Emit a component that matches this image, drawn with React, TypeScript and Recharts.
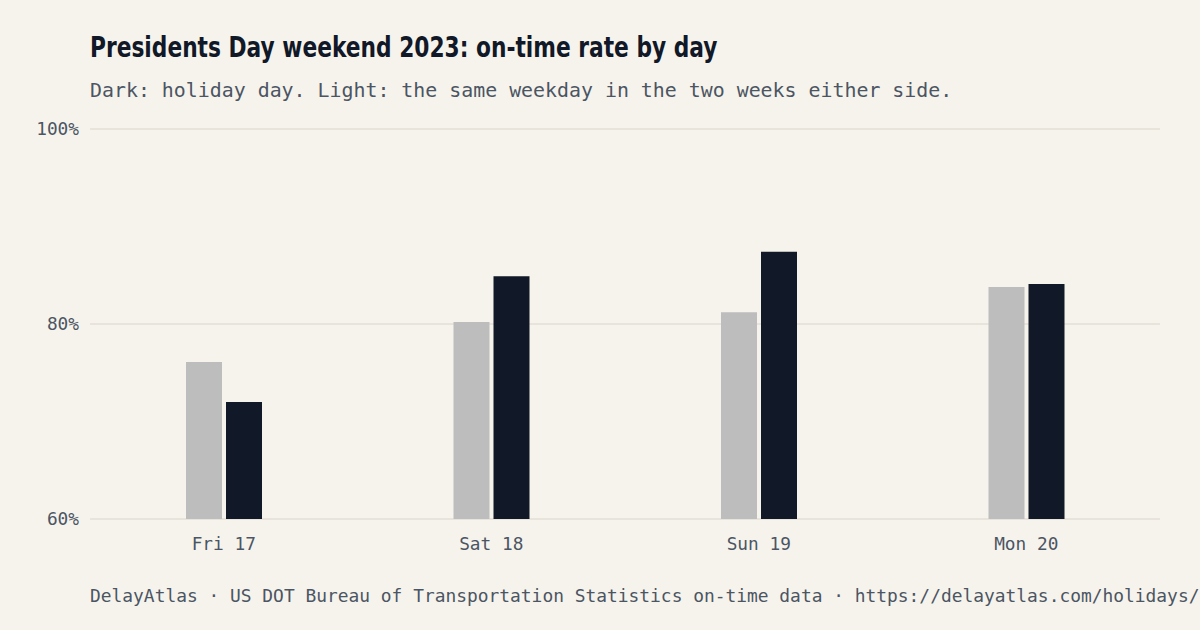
import { BarChart, Bar, XAxis, YAxis, CartesianGrid } from 'recharts';

// Presidents Day weekend 2023, on-time share (%) per day
const days = ['Fri 17', 'Sat 18', 'Sun 19', 'Mon 20'];
const baselineRate = [76.1, 80.2, 81.2, 83.8]; // same weekday, two weeks either side
const holidayRate = [72.0, 84.9, 87.4, 84.1];
const yTicks = [60, 80, 100];

const BG = '#f6f3ec';
const INK = '#111827';
const MUTED = '#4b5563';
const MONO = "'DejaVu Sans Mono', 'Liberation Mono', monospace";

const data = days.map((day, i) => ({
    day,
    baseline: baselineRate[i],
    holiday: holidayRate[i],
}));

const App = () => {
    return (
        <div
            style={{
                position: 'fixed',
                left: 0,
                top: 0,
                width: 1200,
                height: 630,
                background: BG,
                overflow: 'hidden',
            }}
        >
            <div
                style={{
                    position: 'absolute',
                    left: 90,
                    top: 30,
                    fontFamily: "'DejaVu Sans', sans-serif",
                    fontWeight: 700,
                    fontSize: 29,
                    color: INK,
                    whiteSpace: 'nowrap',
                    transform: 'scaleX(0.75)',
                    transformOrigin: 'left top',
                }}
            >
                Presidents Day weekend 2023: on-time rate by day
            </div>
            <div
                style={{
                    position: 'absolute',
                    left: 90,
                    top: 79,
                    fontFamily: MONO,
                    fontSize: 19.9,
                    color: MUTED,
                    whiteSpace: 'nowrap',
                }}
            >
                Dark: holiday day. Light: the same weekday in the two weeks either side.
            </div>

            <div style={{ position: 'absolute', left: 0, top: 0 }}>
                <BarChart
                    width={1200}
                    height={630}
                    data={data}
                    margin={{ top: 129, right: 40, bottom: 81, left: 0 }}
                    barSize={36}
                    barGap={4}
                >
                    <CartesianGrid vertical={false} stroke="#e8e4dc" strokeWidth={2} />
                    <XAxis
                        dataKey="day"
                        axisLine={false}
                        tickLine={false}
                        tickSize={0}
                        tickMargin={18}
                        height={30}
                        tick={{ fill: MUTED, fontFamily: MONO, fontSize: 17.8 }}
                    />
                    <YAxis
                        width={90}
                        domain={[60, 100]}
                        ticks={yTicks}
                        tickFormatter={(v) => `${v}%`}
                        axisLine={false}
                        tickLine={false}
                        tickSize={0}
                        tickMargin={11}
                        allowDataOverflow
                        tick={{ fill: MUTED, fontFamily: MONO, fontSize: 17.8 }}
                    />
                    <Bar dataKey="baseline" fill="#bdbdbd" isAnimationActive={false} />
                    <Bar dataKey="holiday" fill={INK} isAnimationActive={false} />
                </BarChart>
            </div>

            <div
                style={{
                    position: 'absolute',
                    left: 90,
                    top: 585,
                    fontFamily: MONO,
                    fontSize: 17.9,
                    color: MUTED,
                    whiteSpace: 'nowrap',
                }}
            >
                DelayAtlas · US DOT Bureau of Transportation Statistics on-time data · https://delayatlas.com/holidays/
            </div>
        </div>
    );
};

export default App;
